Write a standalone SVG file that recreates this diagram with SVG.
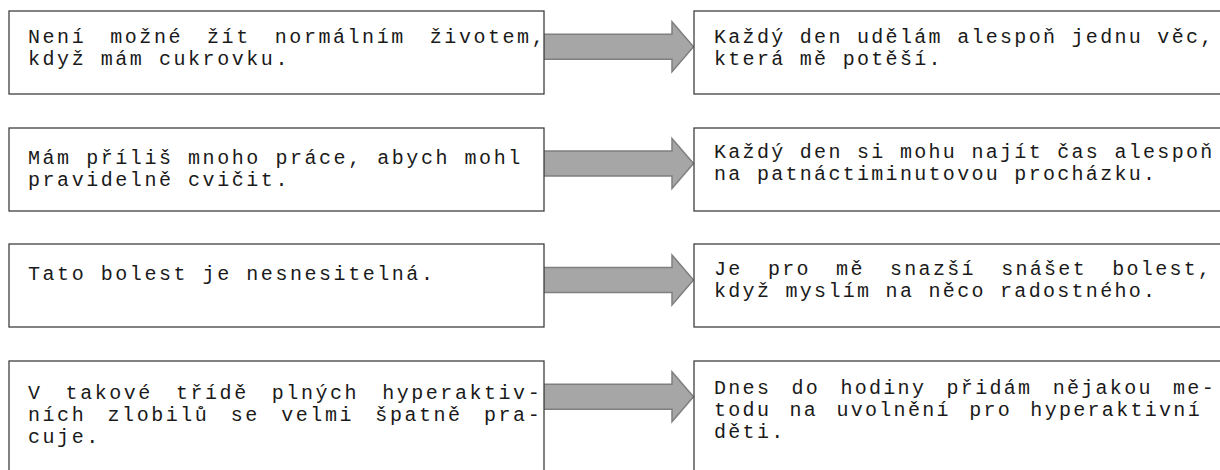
<svg xmlns="http://www.w3.org/2000/svg" width="1220" height="470" viewBox="0 0 1220 470">
<defs>
<style>
.box{fill:#ffffff;stroke:#404040;stroke-width:1.3}
.arr{fill:#a6a6a6;stroke:#7f7f7f;stroke-width:1.5;stroke-linejoin:miter}
.t{font-family:"Courier New","Liberation Mono",monospace;font-size:20px;fill:#1a1a1a}
.l{letter-spacing:2.55px}
.r{letter-spacing:2.3px}
</style>
<path id="arrow" d="M0,-12.5 H128.5 V-25 L150,0 L128.5,25 V12.5 H0 Z"/>
</defs>
<rect width="1220" height="470" fill="#ffffff"/>
<g id="connectors">
<use href="#arrow" class="arr" x="543.5" y="46.7"/>
<use href="#arrow" class="arr" x="543.5" y="163.4"/>
<use href="#arrow" class="arr" x="543.5" y="280"/>
<use href="#arrow" class="arr" x="543.5" y="396.7"/>
</g>
<g id="n1">
<rect class="box" x="9" y="11" width="535" height="83"/>
<text class="t l" x="28" y="43"><tspan style="word-spacing:9.5px">Není možné žít normálním životem,</tspan><tspan x="28" dy="22">když mám cukrovku.</tspan></text>
</g>
<g id="n2">
<rect class="box" x="694" y="11" width="540" height="83"/>
<text class="t r" x="714" y="43">Každý den udělám alespoň jednu věc,<tspan x="714" dy="22">která mě potěší.</tspan></text>
</g>
<g id="n3">
<rect class="box" x="9" y="128" width="535" height="83"/>
<text class="t l" x="28" y="164">Mám příliš mnoho práce, abych mohl<tspan x="28" dy="22">pravidelně cvičit.</tspan></text>
</g>
<g id="n4">
<rect class="box" x="694" y="128" width="540" height="83"/>
<text class="t r" x="714" y="158">Každý den si mohu najít čas alespoň<tspan x="714" dy="22">na patnáctiminutovou procházku.</tspan></text>
</g>
<g id="n5">
<rect class="box" x="9" y="244" width="535" height="83"/>
<text class="t l" x="28" y="280">Tato bolest je nesnesitelná.</text>
</g>
<g id="n6">
<rect class="box" x="694" y="244" width="540" height="83"/>
<text class="t r" x="714" y="275"><tspan style="word-spacing:11px">Je pro mě snazší snášet bolest,</tspan><tspan x="714" dy="22">když myslím na něco radostného.</tspan></text>
</g>
<g id="n7">
<rect class="box" x="9" y="361" width="535" height="130"/>
<text class="t l" x="28" y="399"><tspan style="word-spacing:8.5px">V takové třídě plných hyperaktiv-</tspan><tspan x="28" dy="22" style="word-spacing:6.8px">ních zlobilů se velmi špatně pra-</tspan><tspan x="28" dy="22">cuje.</tspan></text>
</g>
<g id="n8">
<rect class="box" x="694" y="361" width="540" height="130"/>
<text class="t r" x="714" y="394"><tspan style="word-spacing:6px">Dnes do hodiny přidám nějakou me-</tspan><tspan x="714" dy="22" style="word-spacing:4px">todu na uvolnění pro hyperaktivní</tspan><tspan x="714" dy="22">děti.</tspan></text>
</g>
</svg>
